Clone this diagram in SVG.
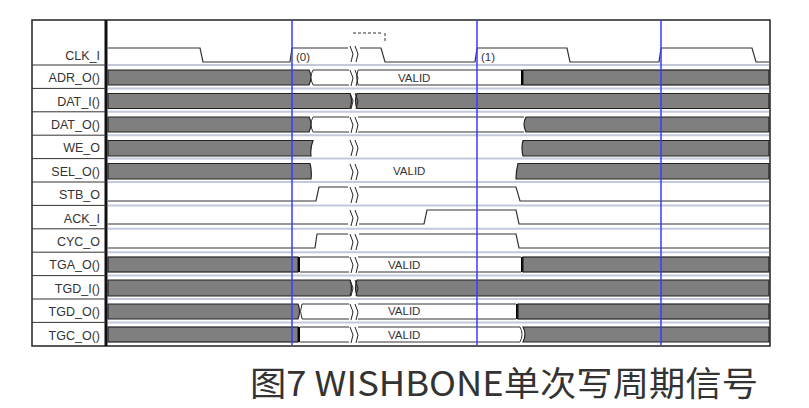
<svg xmlns="http://www.w3.org/2000/svg" width="809" height="408" viewBox="0 0 809 408">
<style>
.lbl{font-family:"Liberation Sans",Arial,sans-serif;font-size:12.5px;fill:#333;text-anchor:end}
.v{font-family:"Liberation Sans",Arial,sans-serif;font-size:11.5px;fill:#333}
.sep{stroke:#c4c8dc;stroke-width:2}
.bus{fill:#7f7f7f;stroke:#222;stroke-width:1.2}
.wh{fill:#fff;stroke:#333;stroke-width:1}
.w{fill:none;stroke:#333;stroke-width:1.2}
.blue{stroke:#3a3aff;stroke-width:1.5}
.brk{fill:none;stroke:#222;stroke-width:1}
.cap{font-family:"Noto Sans CJK SC",sans-serif;font-size:34px;fill:#333}
</style>
<g id="frame">
<rect x="32" y="20" width="738" height="326" fill="#fff" stroke="#222" stroke-width="1.5"/>
<line x1="106" y1="20" x2="106" y2="346" stroke="#111" stroke-width="3"/>
<g stroke="#333" stroke-width="1">
<line x1="32" y1="65" x2="106" y2="65"/><line x1="32" y1="88.4" x2="106" y2="88.4"/><line x1="32" y1="111.8" x2="106" y2="111.8"/><line x1="32" y1="135.2" x2="106" y2="135.2"/><line x1="32" y1="158.6" x2="106" y2="158.6"/><line x1="32" y1="182" x2="106" y2="182"/><line x1="32" y1="205.4" x2="106" y2="205.4"/><line x1="32" y1="228.8" x2="106" y2="228.8"/><line x1="32" y1="252.2" x2="106" y2="252.2"/><line x1="32" y1="275.6" x2="106" y2="275.6"/><line x1="32" y1="299" x2="106" y2="299"/><line x1="32" y1="322.4" x2="106" y2="322.4"/>
</g>
<g class="sep">
<line x1="108" y1="65" x2="769" y2="65"/><line x1="108" y1="88.4" x2="769" y2="88.4"/><line x1="108" y1="111.8" x2="769" y2="111.8"/><line x1="108" y1="135.2" x2="769" y2="135.2"/><line x1="108" y1="158.6" x2="769" y2="158.6"/><line x1="108" y1="182" x2="769" y2="182"/><line x1="108" y1="205.4" x2="769" y2="205.4"/><line x1="108" y1="228.8" x2="769" y2="228.8"/><line x1="108" y1="252.2" x2="769" y2="252.2"/><line x1="108" y1="275.6" x2="769" y2="275.6"/><line x1="108" y1="299" x2="769" y2="299"/><line x1="108" y1="322.4" x2="769" y2="322.4"/>
</g>
</g>
<g id="labels">
<text class="lbl" x="100" y="60">CLK_I</text>
<text class="lbl" x="100" y="82">ADR_O()</text>
<text class="lbl" x="100" y="106">DAT_I()</text>
<text class="lbl" x="100" y="129">DAT_O()</text>
<text class="lbl" x="100" y="152">WE_O</text>
<text class="lbl" x="100" y="176">SEL_O()</text>
<text class="lbl" x="100" y="199">STB_O</text>
<text class="lbl" x="100" y="223">ACK_I</text>
<text class="lbl" x="100" y="246">CYC_O</text>
<text class="lbl" x="100" y="269">TGA_O()</text>
<text class="lbl" x="100" y="293">TGD_I()</text>
<text class="lbl" x="100" y="316">TGD_O()</text>
<text class="lbl" x="100" y="340">TGC_O()</text>
</g>
<g id="waves">
<polyline class="w" points="108,48 200,48 203,62 290,62 292,48 348,48"/>
<polyline class="w" points="360,48 381,48 385,62 475,62 477,48 567,48 570,62 659,62 661,48 752,48 756,62 769,62"/>
<path d="M353,33 H383 M385,33 V42" stroke="#333" stroke-width="1" stroke-dasharray="3,2" fill="none"/>
<text class="v" x="296" y="61">(0)</text>
<text class="v" x="481" y="61">(1)</text>
<path class="bus" d="M108,70 H309 Q313,77 309,85 H108 Z"/>
<path class="wh" d="M313,70 H349 M313,85 H349 M313,70 Q309,77 313,85"/>
<path d="M358,70 H522 V85 H358 Q355,77 358,70 Z" fill="#fff" stroke="#333"/>
<text class="v" x="398" y="82">VALID</text>
<rect class="bus" x="523" y="70" width="246" height="15"/>
<line x1="522" y1="70" x2="522" y2="85" stroke="#000" stroke-width="2"/>
<path class="bus" d="M108,93.5 H350 Q353,101 350,108.5 H108 Z"/>
<path class="bus" d="M357,93.5 H769 V108.5 H357 Q354,101 357,93.5 Z"/>
<path class="bus" d="M108,117 H309 Q313,124 309,132 H108 Z"/>
<path d="M313,117 H349 M313,132 H349 M313,117 Q309,124 313,132" fill="none" stroke="#333"/>
<path d="M358,117 H524 M358,132 H524" fill="none" stroke="#333"/>
<path class="bus" d="M526,117 H769 V132 H526 Q522,124 526,117 Z"/>
<path class="bus" d="M108,140.5 H313 Q310,148 311,156 H108 Z"/>
<path class="bus" d="M523,140.5 H769 V156 H523 Q521,148 523,140.5 Z"/>
<path class="bus" d="M108,163.5 H310 Q312,171 311,179 H108 Z"/>
<text class="v" x="393" y="175">VALID</text>
<path class="bus" d="M518,163.5 H769 V179 H516 Q516,171 518,163.5 Z"/>
<polyline class="w" points="108,201 316,201 319,187 348,187"/>
<polyline class="w" points="359,187 516,187 520,201 769,201"/>
<polyline class="w" points="108,224 348,224"/>
<polyline class="w" points="359,224 424,224 427,210 516,210 519,224 769,224"/>
<polyline class="w" points="108,248 315,248 317,234 348,234"/>
<polyline class="w" points="359,234 516,234 519,248 769,248"/>
<rect class="bus" x="108" y="257" width="190" height="15"/>
<line x1="299" y1="257" x2="299" y2="272" stroke="#000" stroke-width="2"/>
<path d="M300,257 H349 M300,272 H349 M358,257 H521 M358,272 H521" fill="none" stroke="#333"/>
<text class="v" x="388" y="269">VALID</text>
<line x1="522" y1="257" x2="522" y2="272" stroke="#000" stroke-width="2"/>
<rect class="bus" x="523" y="257" width="246" height="15"/>
<path class="bus" d="M108,280 H350 Q353,288 350,296 H108 Z"/>
<path class="bus" d="M357,280 H769 V296 H357 Q354,288 357,280 Z"/>
<path class="bus" d="M108,304 H298 Q301,311 298,319 H108 Z"/>
<path d="M302,304 H349 M302,319 H349 M302,304 Q299,311 302,319 M358,304 H516 M358,319 H516" fill="none" stroke="#333"/>
<text class="v" x="388" y="315">VALID</text>
<line x1="517" y1="304" x2="517" y2="319" stroke="#000" stroke-width="2"/>
<rect class="bus" x="518" y="304" width="251" height="15"/>
<rect class="bus" x="108" y="327" width="190" height="15"/>
<line x1="299" y1="327" x2="299" y2="342" stroke="#000" stroke-width="2"/>
<path d="M300,327 H349 M300,342 H349 M358,327 H520 Q524,334 520,342 H358" fill="none" stroke="#333"/>
<text class="v" x="388" y="339">VALID</text>
<path class="bus" d="M523,327 H769 V342 H523 Q527,334 523,327 Z"/>
<g class="brk">
<path d="M350,46 l3,8 l-2,8 M355,46 l3,8 l-2,8"/>
<path d="M350,70 l3,8 l-2,8 M355,70 l3,8 l-2,8"/>
<path d="M350,93 l3,8 l-2,8 M355,93 l3,8 l-2,8"/>
<path d="M350,117 l3,8 l-2,8 M355,117 l3,8 l-2,8"/>
<path d="M350,140 l3,8 l-2,8 M355,140 l3,8 l-2,8"/>
<path d="M350,164 l3,8 l-2,8 M355,164 l3,8 l-2,8"/>
<path d="M350,187 l3,8 l-2,8 M355,187 l3,8 l-2,8"/>
<path d="M350,210 l3,8 l-2,8 M355,210 l3,8 l-2,8"/>
<path d="M350,234 l3,8 l-2,8 M355,234 l3,8 l-2,8"/>
<path d="M350,257 l3,8 l-2,8 M355,257 l3,8 l-2,8"/>
<path d="M350,280 l3,8 l-2,8 M355,280 l3,8 l-2,8"/>
<path d="M350,304 l3,8 l-2,8 M355,304 l3,8 l-2,8"/>
<path d="M350,327 l3,8 l-2,8 M355,327 l3,8 l-2,8"/>
</g>
</g>
<g id="markers">
<line class="blue" x1="292" y1="20" x2="292" y2="345"/>
<line class="blue" x1="477" y1="20" x2="477" y2="345"/>
<line class="blue" x1="661" y1="20" x2="661" y2="345"/>
</g>
<text class="cap" x="250" y="396" textLength="508" lengthAdjust="spacingAndGlyphs">图7 WISHBONE单次写周期信号</text>
</svg>
